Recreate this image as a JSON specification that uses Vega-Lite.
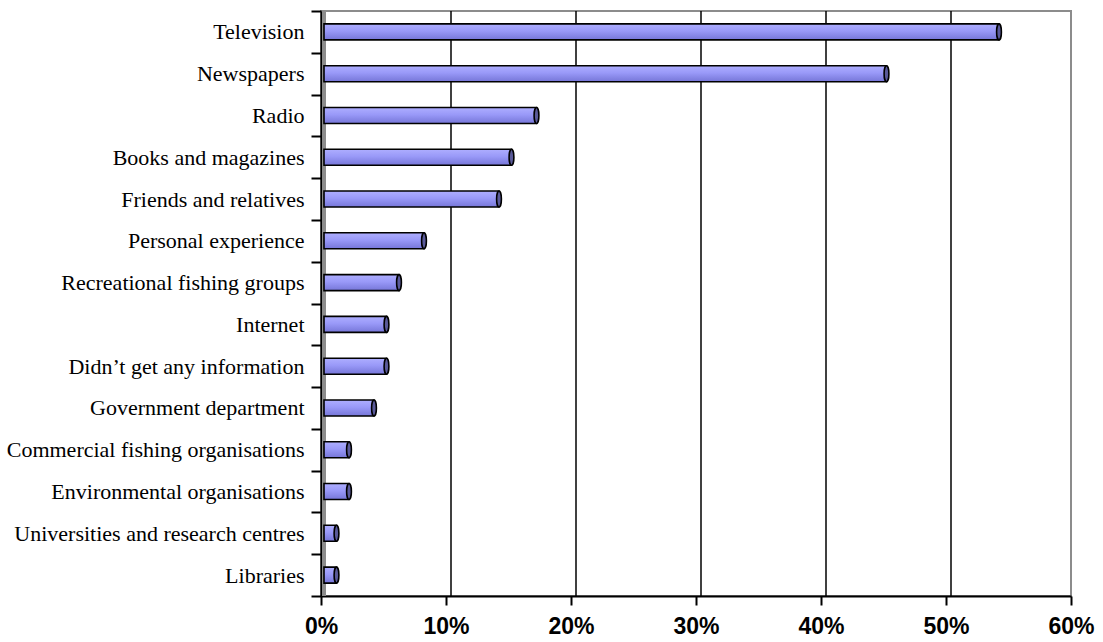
{
  "$schema": "https://vega.github.io/schema/vega-lite/v6.json",
  "autosize": {"type": "none"},
  "width": 750,
  "height": 585,
  "padding": {"left": 321, "top": 11, "right": 32, "bottom": 46},
  "background": "white",
  "config": {
    "view": {"stroke": "#8c8c8c", "strokeWidth": 2},
    "axis": {"domainColor": "black", "tickColor": "black"}
  },
  "datasets": {
    "grid": [{"g": 10}, {"g": 20}, {"g": 30}, {"g": 40}, {"g": 50}]
  },
  "data": {
    "values": [
      {"source": "Television", "pct": 54},
      {"source": "Newspapers", "pct": 45},
      {"source": "Radio", "pct": 17},
      {"source": "Books and magazines", "pct": 15},
      {"source": "Friends and relatives", "pct": 14},
      {"source": "Personal experience", "pct": 8},
      {"source": "Recreational fishing groups", "pct": 6},
      {"source": "Internet", "pct": 5},
      {"source": "Didn’t get any information", "pct": 5},
      {"source": "Government department", "pct": 4},
      {"source": "Commercial fishing organisations", "pct": 2},
      {"source": "Environmental organisations", "pct": 2},
      {"source": "Universities and research centres", "pct": 1},
      {"source": "Libraries", "pct": 1}
    ]
  },
  "encoding": {
    "y": {
      "field": "source", "type": "nominal", "sort": null, "title": null,
      "scale": {"paddingInner": 0, "paddingOuter": 0},
      "axis": {
        "tickBand": "extent", "tickSize": 10, "tickWidth": 2, "domainWidth": 2,
        "labelFont": "Liberation Serif", "labelFontSize": 22, "labelColor": "black",
        "labelPadding": 7, "labelLimit": 320
      }
    },
    "x": {
      "field": "pct", "type": "quantitative", "title": null,
      "scale": {"domain": [0, 60], "nice": false},
      "axis": {
        "values": [0, 10, 20, 30, 40, 50, 60],
        "labelExpr": "datum.value + '%'",
        "labelFlush": false, "labelOverlap": false,
        "labelFont": "Liberation Sans", "labelFontSize": 23, "labelFontWeight": "bold",
        "labelColor": "black", "labelPadding": 10, "tickSize": 9, "tickWidth": 2,
        "domainWidth": 2, "grid": false
      }
    }
  },
  "layer": [
    {
      "data": {"name": "grid"},
      "mark": {"type": "rule", "color": "black", "strokeWidth": 1.5, "xOffset": 5},
      "encoding": {"x": {"field": "g", "type": "quantitative"}, "y": null}
    },
    {
      "data": {"values": [{"z": 0}]},
      "mark": {"type": "rule", "color": "#8c8c8c", "strokeWidth": 4, "xOffset": 3},
      "encoding": {"x": {"field": "z", "type": "quantitative"}, "y": null}
    },
    {
      "mark": {
        "type": "bar", "height": 16, "stroke": "black", "strokeWidth": 1.6, "xOffset": 3,
        "color": {
          "gradient": "linear", "x1": 0, "y1": 0, "x2": 0, "y2": 1,
          "stops": [
            {"offset": 0, "color": "#aeaeff"},
            {"offset": 0.45, "color": "#9999f8"},
            {"offset": 1, "color": "#7676d8"}
          ]
        }
      }
    },
    {
      "mark": {
        "type": "point", "filled": true, "color": "#5a5a99", "stroke": "black",
        "strokeWidth": 1.6, "opacity": 1, "size": 256, "xOffset": 3,
        "shape": "M0,-1 A0.3,1 0 1,1 0,1 A0.3,1 0 1,1 0,-1 Z"
      }
    }
  ]
}
